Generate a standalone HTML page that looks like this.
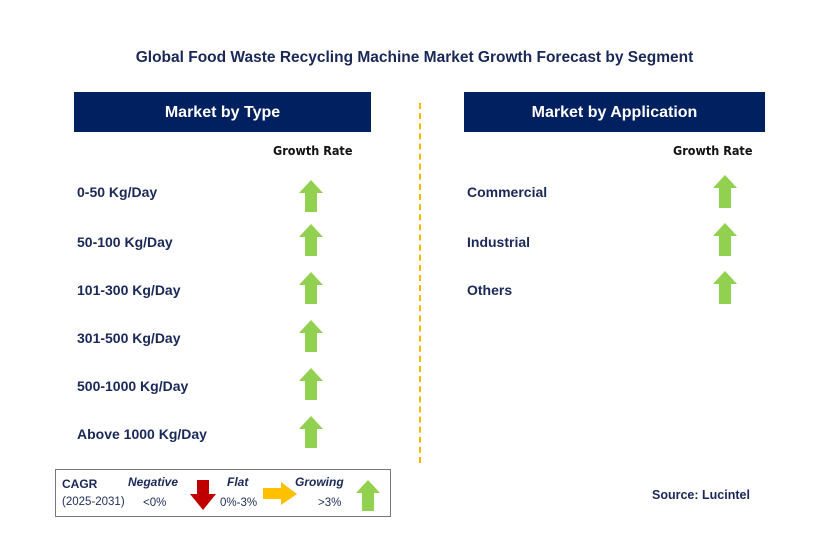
<!DOCTYPE html>
<html><head><meta charset="utf-8"><style>
body{margin:0;width:829px;height:544px;background:#fff;position:relative;font-family:"Liberation Sans",Arial,sans-serif;overflow:hidden}
.a{position:absolute}
.t{position:absolute;font-weight:bold;color:#1a2857;font-size:14px;white-space:nowrap}
.hdr{position:absolute;background:#002060;color:#fff;font-weight:bold;font-size:16px;text-align:center;line-height:40px;height:40px;top:92px}
.gr{position:absolute;font-weight:bold;font-size:12.5px;color:#111;font-family:"DejaVu Sans Condensed","Liberation Sans",sans-serif}
</style></head><body>
<div class="t" style="left:0;width:829px;text-align:center;top:49px;font-size:15.5px">Global Food Waste Recycling Machine Market Growth Forecast by Segment</div>
<div class="hdr" style="left:74px;width:297px;line-height:41px">Market by Type</div>
<div class="hdr" style="left:464px;width:301px;line-height:41px">Market by Application</div>
<div class="gr" style="left:273px;top:143px">Growth Rate</div>
<div class="gr" style="left:673px;top:143px">Growth Rate</div>
<div class="a" style="left:419px;top:103px;height:360px;border-left:2px dashed #f5b800"></div>
<svg id="s" class="a" style="left:0;top:0" width="829" height="544"></svg>
<div class="a" style="left:55px;top:469px;width:334px;height:46px;border:1px solid #777"></div>
<div class="t" style="left:62px;top:477px;font-size:12px">CAGR</div>
<div class="a" style="left:62px;top:496px;font-size:11.5px;color:#1f2d5a">(2025-2031)</div>
<div class="t" style="left:128px;top:475px;font-size:12px;font-style:italic">Negative</div>
<div class="a" style="left:143px;top:497px;font-size:11.5px;color:#1f2d5a">&lt;0%</div>
<div class="t" style="left:227px;top:475px;font-size:12px;font-style:italic">Flat</div>
<div class="a" style="left:220px;top:497px;font-size:11.5px;color:#1f2d5a">0%-3%</div>
<div class="t" style="left:295px;top:475px;font-size:12px;font-style:italic">Growing</div>
<div class="a" style="left:318px;top:497px;font-size:11.5px;color:#1f2d5a">&gt;3%</div>
<div class="t" style="left:652px;top:488px;font-size:12.5px">Source: Lucintel</div>
<script>
const typeCats=["0-50 Kg/Day","50-100 Kg/Day","101-300 Kg/Day","301-500 Kg/Day","500-1000 Kg/Day","Above 1000 Kg/Day"];
const typeLabelTops=[184,234,282,330,378,426];
const typeTops=[180,224,272,320,368,416];
const appCats=["Commercial","Industrial","Others"];
const appLabelTops=[184,234,282];
const appTops=[175,223,271];
const s=document.getElementById('s');
const NS='http://www.w3.org/2000/svg';
function up(cx,top,h,color){const p=document.createElementNS(NS,'polygon');
p.setAttribute('points',`${cx},${top} ${cx+12},${top+13} ${cx+6},${top+13} ${cx+6},${top+h} ${cx-6},${top+h} ${cx-6},${top+13} ${cx-12},${top+13}`);
p.setAttribute('fill',color);


s.appendChild(p);}
typeCats.forEach((c,i)=>{const d=document.createElement('div');d.className='t';d.textContent=c;d.style.left='77px';d.style.top=typeLabelTops[i]+'px';


document.body.appendChild(d);up(311,typeTops[i],32,'#92d050');});
appCats.forEach((c,i)=>{const d=document.createElement('div');d.className='t';d.textContent=c;d.style.left='467px';d.style.top=appLabelTops[i]+'px';


document.body.appendChild(d);up(725,appTops[i],33,'#92d050');});
const dn=document.createElementNS(NS,'polygon');dn.setAttribute('points','197,480 209,480 209,494 216,494 203,510 190,494 197,494');dn.setAttribute('fill','#c00000');


s.appendChild(dn);
const rt=document.createElementNS(NS,'polygon');rt.setAttribute('points','263,488 281,488 281,482 297,494 281,505 281,499 263,499');rt.setAttribute('fill','#ffc000');


s.appendChild(rt);
up(368,480,31,'#92d050');
</script>
</body></html>
